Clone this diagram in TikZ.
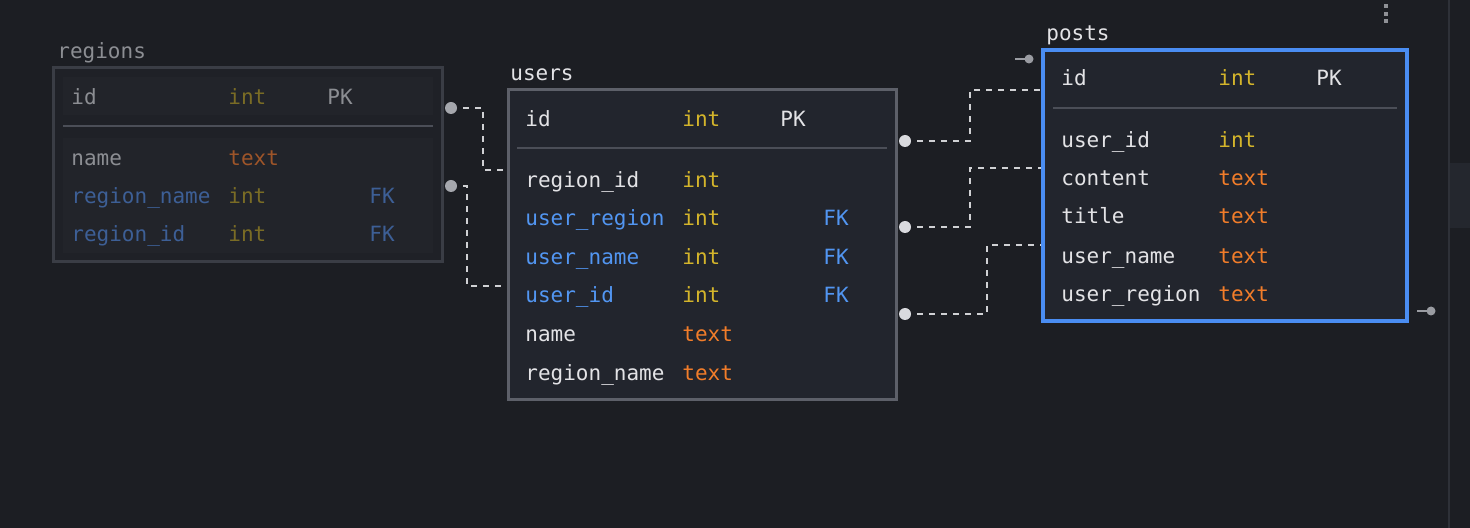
\documentclass[tikz,border=0pt]{standalone}
\usepackage{fontspec}
\setmonofont{DejaVu Sans Mono}
\usepackage{xcolor}
\definecolor{canvas}{HTML}{1C1E23}
\definecolor{tablebg}{HTML}{22252D}
\definecolor{dimbg}{HTML}{1F2127}
\definecolor{dimrow}{HTML}{22242A}
\definecolor{userline}{HTML}{5D6069}
\definecolor{dimline}{HTML}{3A3D45}
\definecolor{postline}{HTML}{4A8DF2}
\definecolor{sepfg}{HTML}{4B4E57}
\definecolor{namefg}{HTML}{E3E3E6}
\definecolor{intfg}{HTML}{D4B52B}
\definecolor{textfg}{HTML}{F27D2A}
\definecolor{fkfg}{HTML}{5296F2}
\definecolor{dnamefg}{HTML}{8C8E93}
\definecolor{dintfg}{HTML}{7A6C25}
\definecolor{dtextfg}{HTML}{9E5529}
\definecolor{dfkfg}{HTML}{3D5F96}
\definecolor{linkfg}{HTML}{D0D1D4}
\definecolor{rdotfg}{HTML}{A5A7AD}
\definecolor{udotfg}{HTML}{D9DADE}
\definecolor{stubfg}{HTML}{9A9CA2}
\definecolor{panelline}{HTML}{2E3138}
\definecolor{panelbg}{HTML}{24272E}
\definecolor{menufg}{HTML}{8F9196}

\tikzset{
  tbl/.style={rectangle,inner sep=0pt},
  cell/.style={anchor=base west,inner sep=0pt,yshift=-0.6pt},
  ttl/.style={cell,text=namefg},
  fname/.style={cell,text=namefg},
  fkname/.style={cell,text=fkfg},
  tint/.style={cell,text=intfg},
  ttext/.style={cell,text=textfg},
  pk/.style={cell,text=namefg},
  fk/.style={cell,text=fkfg},
  dname/.style={cell,text=dnamefg},
  dfkname/.style={cell,text=dfkfg},
  dint/.style={cell,text=dintfg},
  dtext/.style={cell,text=dtextfg},
  sepln/.style={draw=sepfg,line width=1pt},
  link/.style={draw=linkfg,line width=1pt,dash pattern=on 3pt off 3pt},
  stub/.style={draw=stubfg,line width=1pt},
}

\begin{document}
\begin{tikzpicture}[x=0.5pt,y=-0.5pt,font=\ttfamily\fontsize{10.5}{12}\selectfont]
\fill[canvas] (0,0) rectangle (1470,528);
\useasboundingbox (0,0) rectangle (1470,528);

% side panel
\draw[panelline,line width=0.75pt] (1449,0) -- (1449,528);
\fill[panelbg] (1450,163) rectangle (1470,228);
\fill[menufg] (1384,4) rectangle ++(4,4);
\fill[menufg] (1384,12) rectangle ++(4,4);
\fill[menufg] (1384,19) rectangle ++(4,4);

% tables
\node[tbl,draw=dimline,fill=dimbg,line width=1.5pt,minimum width=194.5pt,minimum height=97pt] (regions) at (247.5,165) {};
\fill[dimrow] (63,77) rectangle (433,115);
\fill[dimrow] (63,138) rectangle (433,253);
\node[tbl,draw=userline,fill=tablebg,line width=1.5pt,minimum width=194pt,minimum height=155pt] (users) at (702,245) {};
\node[tbl,draw=postline,fill=tablebg,line width=2pt,minimum width=182pt,minimum height=135.5pt] (posts) at (1225,185.5) {};

\node[cell,text=dnamefg] (regions-ttl) at (57,57) {regions};
\node[ttl] (users-ttl) at (510,79) {users};
\node[ttl] (posts-ttl) at (1046,39) {posts};

\draw[sepln] (63,126) -- (433,126);
\draw[sepln] (517,148) -- (887,148);
\draw[sepln] (1053,108) -- (1397,108);

% regions rows
\node[dname] (r-id) at (71,103) {id};
\node[dint] (r-id-t) at (228,103) {int};
\node[dname] (r-id-k) at (327,103) {PK};
\node[dname] (r-name) at (71,164) {name};
\node[dtext] (r-name-t) at (228,164) {text};
\node[dfkname] (r-rname) at (71,202) {region\_name};
\node[dint] (r-rname-t) at (228,202) {int};
\node[dfkname] (r-rname-k) at (369,202) {FK};
\node[dfkname] (r-rid) at (71,240) {region\_id};
\node[dint] (r-rid-t) at (228,240) {int};
\node[dfkname] (r-rid-k) at (369,240) {FK};

% users rows
\node[fname] (u-id) at (525,125) {id};
\node[tint] (u-id-t) at (682,125) {int};
\node[pk] (u-id-k) at (780,125) {PK};
\node[fname] (u-rid) at (525,186) {region\_id};
\node[tint] (u-rid-t) at (682,186) {int};
\node[fkname] (u-ureg) at (525,224) {user\_region};
\node[tint] (u-ureg-t) at (682,224) {int};
\node[fk] (u-ureg-k) at (823,224) {FK};
\node[fkname] (u-uname) at (525,263) {user\_name};
\node[tint] (u-uname-t) at (682,263) {int};
\node[fk] (u-uname-k) at (823,263) {FK};
\node[fkname] (u-uid) at (525,301) {user\_id};
\node[tint] (u-uid-t) at (682,301) {int};
\node[fk] (u-uid-k) at (823,301) {FK};
\node[fname] (u-name) at (525,340) {name};
\node[ttext] (u-name-t) at (682,340) {text};
\node[fname] (u-rname) at (525,379) {region\_name};
\node[ttext] (u-rname-t) at (682,379) {text};

% posts rows
\node[fname] (p-id) at (1061,84) {id};
\node[tint] (p-id-t) at (1218,84) {int};
\node[pk] (p-id-k) at (1316,84) {PK};
\node[fname] (p-uid) at (1061,146) {user\_id};
\node[tint] (p-uid-t) at (1218,146) {int};
\node[fname] (p-content) at (1061,184) {content};
\node[ttext] (p-content-t) at (1218,184) {text};
\node[fname] (p-title) at (1061,222) {title};
\node[ttext] (p-title-t) at (1218,222) {text};
\node[fname] (p-uname) at (1061,262) {user\_name};
\node[ttext] (p-uname-t) at (1218,262) {text};
\node[fname] (p-ureg) at (1061,300) {user\_region};
\node[ttext] (p-ureg-t) at (1218,300) {text};

% connectors
\coordinate (rdot1) at (451,108);
\coordinate (rdot2) at (451,186);
\coordinate (udot1) at (905,141);
\coordinate (udot2) at (905,227);
\coordinate (udot3) at (905,314);
\draw[link] (rdot1) -- ++(32,0) |- (users.west |- 0,170);
\draw[link] (rdot2) -- ++(16,0) |- (users.west |- 0,286);
\draw[link] (udot1) -- ++(65,0) |- (posts.west |- 0,90);
\draw[link] (udot2) -- ++(65,0) |- (posts.west |- 0,168);
\draw[link] (udot3) -- ++(82,0) |- (posts.west |- 0,245);
\fill[rdotfg] (rdot1) circle (3pt);
\fill[rdotfg] (rdot2) circle (3pt);
\fill[udotfg] (udot1) circle (3pt);
\fill[udotfg] (udot2) circle (3pt);
\fill[udotfg] (udot3) circle (3pt);

% free stubs
\coordinate (stubA) at (1029,59);
\coordinate (stubB) at (1431,311);
\draw[stub] (stubA) -- ++(-14,0);
\draw[stub] (stubB) -- ++(-14,0);
\fill[stubfg] (stubA) circle (2.25pt);
\fill[stubfg] (stubB) circle (2.25pt);
\end{tikzpicture}
\end{document}
